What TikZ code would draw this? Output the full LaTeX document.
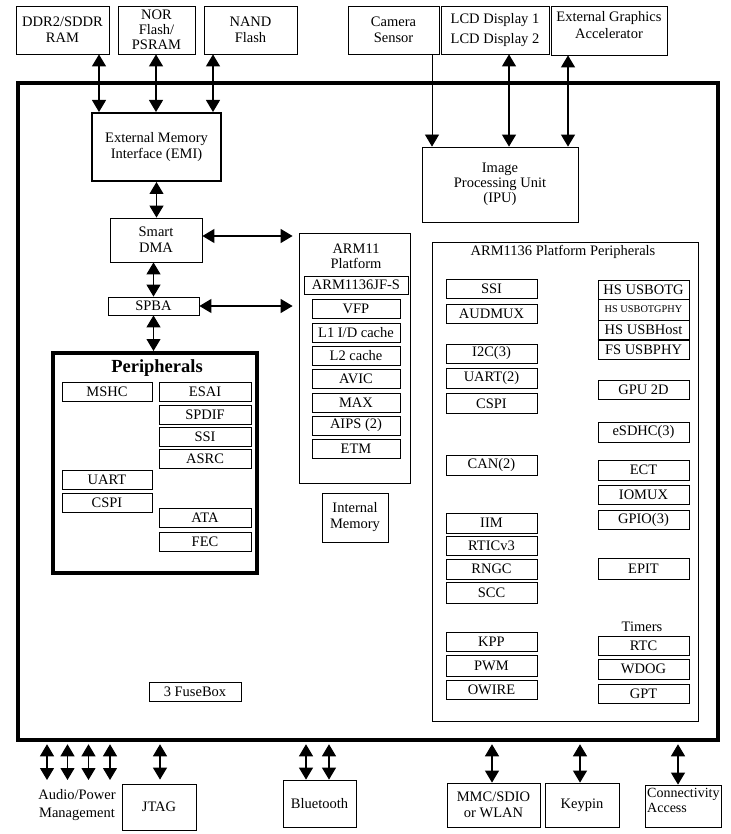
\documentclass[tikz,border=0pt]{standalone}
\usepackage{fontspec}
\setmainfont{Liberation Serif}
\usetikzlibrary{arrows.meta}
\newcommand\mysz{\fontsize{14.5}{16}\selectfont}
\begin{document}
\begin{tikzpicture}[x=1pt,y=-1pt,
  box/.style={draw, line width=0.8pt, inner sep=0pt, align=center, font=\mysz},
  sz/.style 2 args={minimum width=#1pt, minimum height=#2pt},
  lbl/.style={inner sep=0pt, align=center, font=\mysz},
  dbl/.style={line width=1.1pt, {Triangle[width=14pt,length=12pt]}-{Triangle[width=14pt,length=12pt]}},
  sgl/.style={line width=0.8pt, -{Triangle[width=14pt,length=12pt]}}
]
\useasboundingbox (0,0) rectangle (730,834);
% main chip frame
\node[draw, line width=4.5pt, inner sep=0pt, sz={700}{657}] (soc) at (368,411.5) {};
% top external devices
\node[box, sz={93}{48}] (ddr) at (62.5,30) {DDR2/SDDR\\RAM};
\node[box, sz={77}{48}, font={\fontsize{14.5}{15}\selectfont}] (nor) at (156.5,30) {NOR\\Flash/\\PSRAM};
\node[box, sz={93}{48}] (nand) at (250.5,30) {NAND\\Flash};
\node[box, sz={91}{48}] (cam) at (393.5,30) {Camera\\Sensor};
\node[box, sz={108}{48}, font={\fontsize{14.5}{20}\selectfont}] (lcd) at (495,30) {LCD Display 1\\LCD Display 2};
\node[box, sz={116}{49}] (ega) at (609,30.5) {};
\node[lbl, font={\fontsize{14.5}{17}\selectfont}] (egatext) at (609,25) {External Graphics\\Accelerator};
% memory path
\node[box, line width=2pt, sz={129}{68}] (emi) at (156.5,147) {External Memory\\Interface (EMI)};
\node[box, sz={92}{44}] (dma) at (156,240) {Smart\\DMA};
\node[box, sz={91}{18}] (spba) at (153.5,306) {SPBA};
% peripherals block
\node[draw, line width=4pt, inner sep=0pt, sz={204}{220}] (per) at (155,463) {};
\node[lbl, font={\fontsize{18.5}{20}\selectfont\bfseries}] (pertitle) at (157,368) {Peripherals};
\node[box, sz={90}{19}] (mshc) at (107,391.5) {MSHC};
\node[box, sz={90}{19}] (uart) at (107,480) {UART};
\node[box, sz={90}{19}] (cspi) at (107,502.5) {CSPI};
\node[box, sz={92}{19}] (esai) at (205,391.5) {ESAI};
\node[box, sz={92}{19}] (spdif) at (205,415) {SPDIF};
\node[box, sz={92}{19}] (ssi) at (205,437) {SSI};
\node[box, sz={92}{19}] (asrc) at (205,458.5) {ASRC};
\node[box, sz={92}{19}] (ata) at (205,517.5) {ATA};
\node[box, sz={92}{19}] (fec) at (205,542) {FEC};
% ARM11 platform
\node[box, sz={111}{250}] (arm) at (354.5,358) {};
\node[lbl, font={\fontsize{14.5}{15}\selectfont}] (armtitle) at (356,256.5) {ARM11\\Platform};
\node[box, sz={104}{18}] (core) at (356,285) {ARM1136JF-S};
\node[box, sz={88}{19}] (vfp) at (356,308.5) {VFP};
\node[box, sz={88}{19}] (lone) at (356,332.5) {L1 I/D cache};
\node[box, sz={88}{19}] (ltwo) at (356,355.5) {L2 cache};
\node[box, sz={88}{19}] (avic) at (356,378.5) {AVIC};
\node[box, sz={88}{19}] (max) at (356,402.5) {MAX};
\node[box, sz={88}{19}] (aips) at (356,425.5) {AIPS (2)};
\node[box, sz={88}{19}] (etm) at (356,448.5) {ETM};
\node[box, sz={66}{49}] (imem) at (355,517.5) {Internal\\Memory};
% IPU
\node[box, sz={156}{75}, font={\fontsize{14.5}{15}\selectfont}] (ipu) at (500,184.5) {Image\\Processing Unit\\(IPU)};
% ARM1136 platform peripherals
\node[box, sz={266}{479}] (app) at (565,481.5) {};
\node[lbl] (apptitle) at (563,252) {ARM1136 Platform Peripherals};
\node[box, sz={91}{19}] (pssi) at (491.5,289) {SSI};
\node[box, sz={91}{19}] (audmux) at (491.5,313.5) {AUDMUX};
\node[box, sz={91}{19}] (itc) at (491.5,353.5) {I2C(3)};
\node[box, sz={91}{20}] (puart) at (491.5,378) {UART(2)};
\node[box, sz={91}{20}] (pcspi) at (491.5,403.5) {CSPI};
\node[box, sz={91}{20}] (can) at (491.5,465) {CAN(2)};
\node[box, sz={91}{20}] (iim) at (491.5,523) {IIM};
\node[box, sz={91}{19}] (rtic) at (491.5,545.5) {RTICv3};
\node[box, sz={91}{20}] (rngc) at (491.5,569) {RNGC};
\node[box, sz={91}{21}] (scc) at (491.5,592.5) {SCC};
\node[box, sz={91}{19}] (kpp) at (491.5,641.5) {KPP};
\node[box, sz={91}{21}] (pwm) at (491.5,665.5) {PWM};
\node[box, sz={91}{19}] (owire) at (491.5,689.5) {OWIRE};
\node[box, sz={91}{19}] (usbotg) at (643.5,289.5) {HS USBOTG};
\node[box, sz={91}{21}, font={\fontsize{10.3}{12}\selectfont}] (otgphy) at (643.5,309.5) {HS USBOTGPHY};
\node[box, sz={91}{19}] (usbhost) at (643.5,329.5) {HS USBHost};
\node[box, sz={91}{19}] (fsphy) at (643.5,349.5) {FS USBPHY};
\draw[line width=1.8pt] (usbhost.south west) -- (usbhost.south east);
\node[box, sz={91}{19}] (gpu) at (643.5,389.5) {GPU 2D};
\node[box, sz={91}{20}] (esdhc) at (643.5,432) {eSDHC(3)};
\node[box, sz={91}{20}] (ect) at (643.5,470) {ECT};
\node[box, sz={91}{19}] (iomux) at (643.5,494.5) {IOMUX};
\node[box, sz={91}{19}] (gpio) at (643.5,520) {GPIO(3)};
\node[box, sz={91}{21}] (epit) at (643.5,568.5) {EPIT};
\node[lbl] (timers) at (642,627) {Timers};
\node[box, sz={91}{19}] (rtc) at (643.5,645.5) {RTC};
\node[box, sz={91}{20}] (wdog) at (643.5,669) {WDOG};
\node[box, sz={91}{19}] (gpt) at (643.5,693.5) {GPT};
% fusebox
\node[box, sz={92}{19}] (fuse) at (195,691.5) {3 FuseBox};
% bottom external devices
\node[lbl, font={\fontsize{14.5}{18}\selectfont}] (audio) at (77,805) {Audio/Power\\Management};
\node[box, sz={74}{46}] (jtag) at (159,807) {JTAG};
\node[box, sz={73}{47}] (bt) at (319.5,803.5) {Bluetooth};
\node[box, sz={93}{44}] (mmc) at (493.5,805) {MMC/SDIO\\or WLAN};
\node[box, sz={74}{44}] (key) at (582,805) {Keypin};
\node[box, sz={76}{42}] (conn) at (683,806) {};
\node[lbl, align=left, anchor=west, font={\fontsize{14}{15}\selectfont}] (conntext) at (647,800.5) {Connectivity\\Access};
% connector x/y references
\coordinate (xddr) at (99,0);
\coordinate (xnor) at (156,0);
\coordinate (xnand) at (213,0);
\coordinate (xcam) at (432,0);
\coordinate (xlcd) at (509,0);
\coordinate (xega) at (568,0);
\coordinate (ydma) at (0,236);
\coordinate (xa1) at (47,0);
\coordinate (xa2) at (67.5,0);
\coordinate (xa3) at (88.5,0);
\coordinate (xa4) at (110,0);
\coordinate (xjt) at (160,0);
\coordinate (xb1) at (306,0);
\coordinate (xb2) at (329,0);
\coordinate (xmmc) at (492,0);
\coordinate (xkey) at (580,0);
\coordinate (xcon) at (678,0);
\coordinate (aud1) at (47,780);
\coordinate (aud2) at (67.5,780);
\coordinate (aud3) at (88.5,780);
\coordinate (aud4) at (110,780);
% connectors
\draw[dbl] (xddr |- ddr.south) -- (xddr |- emi.north);
\draw[dbl] (xnor |- nor.south) -- (xnor |- emi.north);
\draw[dbl] (xnand |- nand.south) -- (xnand |- emi.north);
\draw[sgl] (xcam |- cam.south) -- (xcam |- ipu.north);
\draw[dbl] (xlcd |- lcd.south) -- (xlcd |- ipu.north);
\draw[dbl] (xega |- ega.south) -- (xega |- ipu.north);
\draw[dbl] (emi.south) -- (emi.south |- dma.north);
\draw[dbl] (dma.south -| spba.north) -- (spba.north);
\draw[dbl] (spba.south) -- (spba.south |- per.north);
\draw[dbl, shorten >=6pt] (dma.east |- ydma) -- (arm.west |- ydma);
\draw[dbl, shorten >=6pt] (spba.east) -- (arm.west |- spba.east);
\draw[dbl, shorten <=2pt] (xa1 |- soc.south) -- (aud1);
\draw[dbl, shorten <=2pt] (xa2 |- soc.south) -- (aud2);
\draw[dbl, shorten <=2pt] (xa3 |- soc.south) -- (aud3);
\draw[dbl, shorten <=2pt] (xa4 |- soc.south) -- (aud4);
\draw[dbl, shorten <=2pt, shorten >=4pt] (xjt |- soc.south) -- (xjt |- jtag.north);
\draw[dbl, shorten <=2pt] (xb1 |- soc.south) -- (xb1 |- bt.north);
\draw[dbl, shorten <=2pt] (xb2 |- soc.south) -- (xb2 |- bt.north);
\draw[dbl, shorten <=2pt] (xmmc |- soc.south) -- (xmmc |- mmc.north);
\draw[dbl, shorten <=2pt] (xkey |- soc.south) -- (xkey |- key.north);
\draw[dbl, shorten <=2pt] (xcon |- soc.south) -- (xcon |- conn.north);
\end{tikzpicture}
\end{document}
